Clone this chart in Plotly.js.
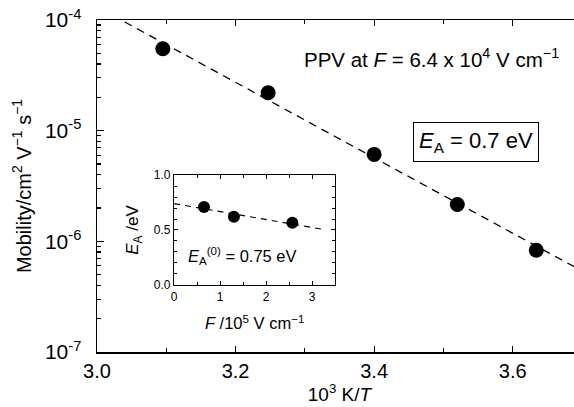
<!DOCTYPE html>
<html><head><meta charset="utf-8">
<script src="https://cdn.plot.ly/plotly-3.0.1.min.js"></script>
<style>html,body{margin:0;padding:0;overflow:hidden;background:#fff}</style>
</head><body><div id="chart"></div>
<script>
// Main plot: mobility vs 1000/T
const invT = [3.095, 3.247, 3.400, 3.520, 3.634];
const mobility = [5.5e-5, 2.2e-5, 6.1e-6, 2.15e-6, 8.3e-7];
const fitX = [3.04, 3.70];
const fitY = [9.6e-5, 5.4e-7];
const yTickVals = [1e-7, 1e-6, 1e-5, 1e-4];
const yTickText = ['10<sup>-7</sup>', '10<sup>-6</sup>', '10<sup>-5</sup>', '10<sup>-4</sup>'];
const xTickVals = [3.0, 3.2, 3.4, 3.6];
const xTickText = ['3.0', '3.2', '3.4', '3.6'];
// Inset: activation energy vs field
const field = [0.65, 1.30, 2.57];
const activation = [0.71, 0.62, 0.565];
const insetFitX = [0, 3.25];
const insetFitY = [0.74, 0.505];

const minorLog = [];
for (let e = -7; e < -4; e++) for (let d = 2; d <= 9; d++) minorLog.push(d * Math.pow(10, e));

const font = 'Liberation Sans, Arial, sans-serif';

const traces = [
  {x: fitX, y: fitY, mode: 'lines', line: {color: '#000', width: 1.3, dash: '8px,6px'}, hoverinfo: 'skip'},
  {x: invT, y: mobility, mode: 'markers', marker: {color: '#000', size: 15}},
  {x: insetFitX, y: insetFitY, xaxis: 'x2', yaxis: 'y2', mode: 'lines', line: {color: '#000', width: 1.1, dash: '6px,5px'}},
  {x: field, y: activation, xaxis: 'x2', yaxis: 'y2', mode: 'markers', marker: {color: '#000', size: 12}}
];

const layout = {
  width: 590, height: 407,
  margin: {l: 97, r: 8, t: 20, b: 55},
  showlegend: false,
  paper_bgcolor: '#fff', plot_bgcolor: '#fff',
  font: {family: font, color: '#000'},
  xaxis: {
    range: [3.0, 3.7], showgrid: false, zeroline: false,
    showline: true, linecolor: '#000', linewidth: 1.5, mirror: 'ticks',
    ticks: 'inside', ticklen: 6, tickwidth: 1.2, tickcolor: '#000',
    tickmode: 'array', tickvals: xTickVals, ticktext: xTickText,
    tickfont: {size: 20, family: font},
    minor: {dtick: 0.1, tick0: 3.0, ticks: 'inside', ticklen: 4, tickcolor: '#000', showgrid: false},
    title: {text: '10<sup>3</sup> K/<i>T</i>', font: {size: 19, family: font}, standoff: 6}
  },
  yaxis: {
    type: 'log', range: [-7, -4], showgrid: false, zeroline: false,
    showline: true, linecolor: '#000', linewidth: 1.5, mirror: 'ticks',
    ticks: 'inside', ticklen: 7, tickwidth: 1.2, tickcolor: '#000',
    tickmode: 'array', tickvals: yTickVals, ticktext: yTickText,
    tickfont: {size: 21, family: font}, ticklabelstandoff: 10,
    minor: {tickmode: 'array', tickvals: minorLog, ticks: 'inside', ticklen: 4, tickcolor: '#000', showgrid: false},
    title: {text: 'Mobility/cm<sup>2</sup> V<sup>−1</sup> s<sup>−1</sup>', font: {size: 20, family: font}, standoff: 8}
  },
  xaxis2: {
    domain: [0.159, 0.491], anchor: 'y2', range: [0, 3.5],
    showgrid: false, zeroline: false, showline: true, linecolor: '#000', linewidth: 1.2, mirror: 'ticks',
    ticks: 'inside', ticklen: 4, tickcolor: '#000', dtick: 1, tick0: 0,
    tickfont: {size: 12, family: font},
    minor: {dtick: 0.5, ticks: 'inside', ticklen: 3, tickcolor: '#000', showgrid: false},
    title: {text: '<i>F</i> /10<sup>5</sup> V cm<sup>−1</sup>', font: {size: 16.5, family: font}, standoff: 15}
  },
  yaxis2: {
    domain: [0.202, 0.533], anchor: 'x2', range: [0, 1],
    showgrid: false, zeroline: false, showline: true, linecolor: '#000', linewidth: 1.2, mirror: 'ticks',
    ticks: 'inside', ticklen: 4, tickcolor: '#000', dtick: 0.5, tick0: 0, tickformat: '.1f',
    tickfont: {size: 12, family: font},
    minor: {dtick: 0.1, ticks: 'inside', ticklen: 3, tickcolor: '#000', showgrid: false},
    title: {text: '<i>E</i><sub>A</sub> /eV', font: {size: 17, family: font}, standoff: 10}
  },
  annotations: [
    {xref: 'paper', yref: 'paper', x: 0.423, y: 0.886, xanchor: 'left', yanchor: 'middle', showarrow: false,
     text: 'PPV at <i>F</i> = 6.4 x 10<sup>4</sup> V cm<sup>−1</sup>', font: {size: 20.5, family: font}},
    {xref: 'paper', yref: 'paper', x: 0.781, y: 0.634, xanchor: 'center', yanchor: 'middle', showarrow: false,
     text: '<i>E</i><sub>A</sub> = 0.7 eV', font: {size: 22, family: font},
     bordercolor: '#000', borderwidth: 1, borderpad: 5, bgcolor: '#fff'},
    {xref: 'x2', yref: 'y2', x: 0.25, y: 0.26, xanchor: 'left', yanchor: 'middle', showarrow: false,
     text: '<i>E</i><sub>A</sub><sup>(0)</sup> = 0.75 eV', font: {size: 16.5, family: font}}
  ]
};

Plotly.newPlot('chart', traces, layout, {displayModeBar: false, staticPlot: true});
</script></body></html>
